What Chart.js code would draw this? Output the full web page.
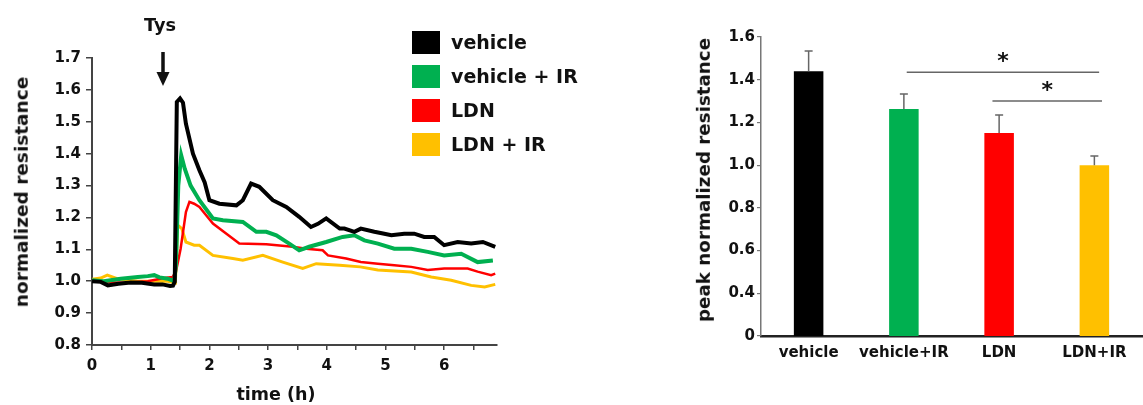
<!DOCTYPE html>
<html>
<head>
<meta charset="utf-8">
<script src="https://cdn.jsdelivr.net/npm/chart.js@4.4.1/dist/chart.umd.min.js"></script>
<style>
  body { margin: 0; width: 1143px; height: 405px; background: #fff; position: relative; overflow: hidden;
         font-family: "DejaVu Sans", sans-serif; font-weight: bold; color: #111; }
  canvas { position: absolute; top: 0; }
  #timeChart { left: 0; }
  #peakChart { left: 680px; }
  .txt { position: absolute; white-space: nowrap; transform: translate(-50%, -50%); line-height: 1; }
  .rot { transform: translate(-50%, -50%) rotate(-90deg); }
  .legend { position: absolute; left: 412px; top: 25px; }
  .legend-row { display: flex; align-items: center; height: 34px; }
  .legend-row span.sw { width: 28px; height: 23px; margin-right: 11px; }
  .legend-row span.name { font-size: 19px; }
</style>
</head>
<body>
<canvas id="timeChart" width="530" height="405"></canvas>
<canvas id="peakChart" width="463" height="405"></canvas>

<div class="txt rot" style="left:22px; top:192px; font-size:18.5px;">normalized resistance</div>
<div class="txt" style="left:276px; top:395px; font-size:17.5px;">time (h)</div>
<div class="txt" style="left:160px; top:26px; font-size:17.7px;">Tys</div>
<svg style="position:absolute; left:154px; top:50px;" width="18" height="40">
  <line x1="9" y1="2" x2="9" y2="26" stroke="#111" stroke-width="3.5"/>
  <polygon points="2.5,22 15.5,22 9,36" fill="#111"/>
</svg>
<div class="legend" id="legend"></div>
<div class="txt rot" style="left:704px; top:180px; font-size:18.3px;">peak normalized resistance</div>

<script>
// time course
const seriesNames = ['vehicle', 'vehicle + IR', 'LDN', 'LDN + IR'];
const seriesColors = ['#000000', '#00b050', '#ff0000', '#ffc000'];
const seriesWidths = [4, 4, 2.5, 3];

const vehicleTime = [0, 0.15, 0.27, 0.45, 0.66, 0.85, 1.06, 1.2, 1.33, 1.38, 1.41, 1.445, 1.5, 1.55, 1.6, 1.72, 1.83, 1.92,
  2.0, 2.17, 2.46, 2.57, 2.71, 2.85, 3.08, 3.31, 3.53, 3.73, 3.85, 3.99, 4.22, 4.30, 4.47, 4.58, 4.81, 4.98, 5.1, 5.32,
  5.49, 5.66, 5.83, 6.0, 6.23, 6.46, 6.66, 6.87];
const vehicleRes = [1.0, 0.998, 0.987, 0.992, 0.996, 0.995, 0.99, 0.99, 0.985, 0.986, 0.998, 1.562, 1.573, 1.56, 1.494,
  1.40, 1.348, 1.31, 1.254, 1.243, 1.238, 1.254, 1.306, 1.296, 1.254, 1.233, 1.202, 1.17, 1.18, 1.197, 1.165, 1.165,
  1.155, 1.165, 1.155, 1.149, 1.144, 1.149, 1.149, 1.139, 1.139, 1.113, 1.123, 1.118, 1.123, 1.108];

const vehicleIrTime = [0, 0.2, 0.49, 0.78, 0.95, 1.06, 1.15, 1.29, 1.4, 1.43, 1.47, 1.52, 1.58, 1.68, 1.83, 2.06, 2.23,
  2.57, 2.8, 2.97, 3.14, 3.36, 3.53, 3.7, 3.99, 4.27, 4.47, 4.64, 4.87, 5.15, 5.44, 5.72, 6.0, 6.29, 6.57, 6.83];
const vehicleIrRes = [1.003, 1.0, 1.008, 1.013, 1.016, 1.019, 1.012, 1.008, 1.0, 1.05, 1.3, 1.395, 1.353, 1.30, 1.254,
  1.197, 1.191, 1.186, 1.155, 1.155, 1.144, 1.118, 1.097, 1.108, 1.123, 1.139, 1.144, 1.128, 1.118, 1.102, 1.102, 1.092,
  1.081, 1.086, 1.06, 1.065];

const ldnTime = [0, 0.22, 0.56, 0.95, 1.23, 1.37, 1.43, 1.51, 1.6, 1.66, 1.74, 1.83, 2.06, 2.29, 2.51, 2.97, 3.42, 3.65,
  3.93, 4.02, 4.33, 4.58, 4.87, 5.15, 5.44, 5.72, 6.0, 6.4, 6.57, 6.8, 6.87];
const ldnRes = [1.0, 0.997, 0.995, 1.0, 1.01, 1.013, 1.03, 1.102, 1.217, 1.249, 1.243, 1.233, 1.181, 1.149, 1.118, 1.116,
  1.108, 1.102, 1.097, 1.081, 1.071, 1.06, 1.055, 1.05, 1.045, 1.035, 1.04, 1.04, 1.03, 1.019, 1.024];

const ldnIrTime = [0, 0.15, 0.26, 0.43, 0.78, 1.29, 1.42, 1.46, 1.53, 1.6, 1.74, 1.83, 2.06, 2.4, 2.57, 2.91, 3.25, 3.59,
  3.82, 4.22, 4.57, 4.87, 5.44, 5.78, 6.12, 6.46, 6.69, 6.87];
const ldnIrRes = [1.006, 1.01, 1.019, 1.008, 1.0, 1.0, 0.995, 1.176, 1.165, 1.123, 1.113, 1.113, 1.081, 1.071, 1.066,
  1.081, 1.06, 1.04, 1.055, 1.05, 1.045, 1.035, 1.029, 1.013, 1.003, 0.987, 0.982, 0.99];

const seriesTimes = [vehicleTime, vehicleIrTime, ldnTime, ldnIrTime];
const seriesValues = [vehicleRes, vehicleIrRes, ldnRes, ldnIrRes];

// peak values, right panel
const groupLabels = ['vehicle', 'vehicle+IR', 'LDN', 'LDN+IR'];
const peakMean = [1.44, 1.263, 1.15, 1.0];
const peakSem = [0.095, 0.07, 0.085, 0.043];
// significance brackets, in category units
const sigStart = [1.03, 1.93];
const sigEnd = [3.05, 3.08];
const sigLevel = [1.435, 1.30];

const tickFont = { family: 'DejaVu Sans', weight: 'bold', size: 15 };

function buildLegend() {
  const box = document.getElementById('legend');
  seriesNames.forEach((name, i) => {
    const row = document.createElement('div');
    row.className = 'legend-row';
    row.innerHTML = `<span class="sw" style="background:${seriesColors[i]}"></span><span class="name">${name}</span>`;
    box.appendChild(row);
  });
}

function buildTimeChart() {
  const datasets = seriesNames.map((name, i) => ({
    label: name,
    data: seriesTimes[i].map((t, k) => ({ x: t, y: seriesValues[i][k] })),
    borderColor: seriesColors[i],
    borderWidth: seriesWidths[i],
    pointRadius: 0,
    tension: 0,
    fill: false,
  }));

  return new Chart(document.getElementById('timeChart'), {
    type: 'line',
    data: { datasets },
    options: {
      responsive: false,
      animation: false,
      layout: { padding: { top: 58, right: 33, left: 0, bottom: 0 } },
      plugins: { legend: { display: false }, tooltip: { enabled: false } },
      scales: {
        x: {
          type: 'linear',
          min: 0,
          max: 6.9,
          afterFit: (scale) => { scale.height = 60; },
          ticks: {
            stepSize: 0.5,
            includeBounds: false,
            autoSkip: false,
            maxRotation: 0,
            padding: 7,
            color: '#111',
            font: tickFont,
            callback: (v) => (Number.isInteger(v) ? v : ''),
          },
          grid: { drawOnChartArea: false, tickLength: 5, color: '#444', lineWidth: 1.5 },
          border: { color: '#444', width: 2 },
        },
        y: {
          min: 0.8,
          max: 1.7,
          afterFit: (scale) => { scale.width = 92; },
          ticks: {
            stepSize: 0.1,
            padding: 5,
            color: '#111',
            font: tickFont,
            callback: (v) => v.toFixed(1),
          },
          grid: { drawOnChartArea: false, tickLength: 6, color: '#444', lineWidth: 1.5 },
          border: { color: '#444', width: 2 },
        },
      },
    },
  });
}

const errorBarPlugin = {
  id: 'errorBars',
  afterDatasetsDraw(chart) {
    const { ctx, scales: { x, y } } = chart;
    const bars = chart.getDatasetMeta(0).data;
    ctx.save();
    ctx.strokeStyle = '#666';
    ctx.lineWidth = 1.5;
    bars.forEach((bar, i) => {
      const top = y.getPixelForValue(peakMean[i] + peakSem[i]);
      ctx.beginPath();
      ctx.moveTo(bar.x, bar.y);
      ctx.lineTo(bar.x, top);
      ctx.moveTo(bar.x - 4, top);
      ctx.lineTo(bar.x + 4, top);
      ctx.stroke();
    });

    sigLevel.forEach((lvl, i) => {
      const x0 = x.getPixelForValue(sigStart[i]);
      const x1 = x.getPixelForValue(sigEnd[i]);
      const yy = y.getPixelForValue(lvl);
      ctx.beginPath();
      ctx.moveTo(x0, yy);
      ctx.lineTo(x1, yy);
      ctx.stroke();
      ctx.fillStyle = '#111';
      ctx.font = 'bold 22px "DejaVu Sans"';
      ctx.textAlign = 'center';
      ctx.textBaseline = 'middle';
      ctx.fillText('*', (x0 + x1) / 2, yy - 10);
    });
    ctx.restore();
  },
};

function buildPeakChart() {
  return new Chart(document.getElementById('peakChart'), {
    type: 'bar',
    data: {
      labels: groupLabels,
      datasets: [{
        data: peakMean,
        backgroundColor: seriesColors,
        barPercentage: 0.31,
        categoryPercentage: 1,
      }],
    },
    plugins: [errorBarPlugin],
    options: {
      responsive: false,
      animation: false,
      layout: { padding: { top: 37, right: 1, left: 0, bottom: 0 } },
      plugins: { legend: { display: false }, tooltip: { enabled: false } },
      scales: {
        x: {
          afterFit: (scale) => { scale.height = 69; },
          ticks: { padding: 8, color: '#111', font: tickFont, maxRotation: 0 },
          grid: { drawOnChartArea: false, drawTicks: false },
          border: { color: '#222', width: 2.5 },
        },
        y: {
          min: 0.2,
          max: 1.6,
          afterFit: (scale) => { scale.width = 81; },
          ticks: {
            stepSize: 0.2,
            padding: 2,
            color: '#111',
            font: tickFont,
            // the bottom label of the original axis reads "0"
            callback: (v) => (Math.abs(v - 0.2) < 1e-6 ? '0' : v.toFixed(1)),
          },
          grid: { drawOnChartArea: false, tickLength: 4, color: '#777', lineWidth: 1.2 },
          border: { color: '#777', width: 1.5 },
        },
      },
    },
  });
}

buildLegend();
buildTimeChart();
buildPeakChart();
</script>
</body>
</html>
